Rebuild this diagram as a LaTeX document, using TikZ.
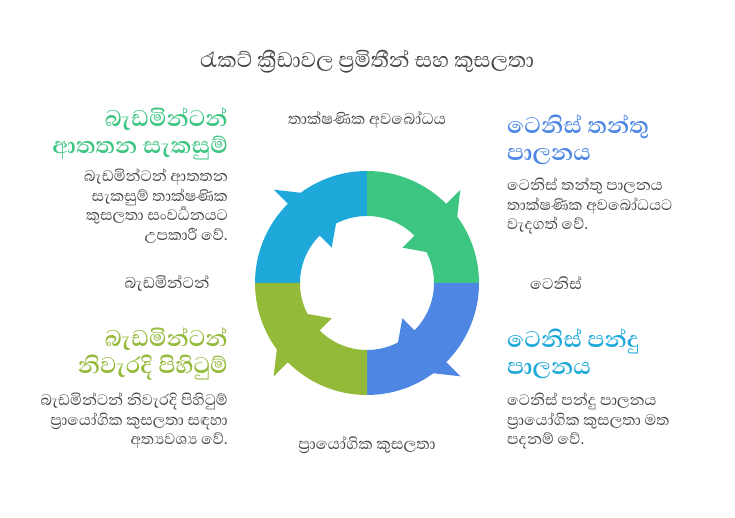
\documentclass[tikz,border=0pt]{standalone}
\usepackage{fontspec}
\setmainfont[Script=Sinhala]{Abhaya Libre}
\usetikzlibrary{calc}
\definecolor{ringcyan}{RGB}{30,169,218}
\definecolor{ringgreen}{RGB}{61,198,130}
\definecolor{ringblue}{RGB}{77,135,227}
\definecolor{ringolive}{RGB}{147,186,56}
\definecolor{txtgrey}{RGB}{70,70,70}

\begin{document}
\begin{tikzpicture}[x=1pt, y=1pt]
    \useasboundingbox (0,0) rectangle (735,518);
    \tikzset{
        lbl/.style={text=txtgrey, font=\fontsize{20}{22}\selectfont},
        head/.style={font=\fontsize{29}{27}\selectfont\bfseries, inner sep=0pt},
        desc/.style={text=txtgrey, font=\fontsize{19.5}{19.5}\selectfont, inner sep=0pt},
    }
    \coordinate (C) at (367,235);

    % ring
    \foreach \a/\col in {180/ringcyan, 90/ringgreen, 0/ringblue, -90/ringolive} {
        \fill[\col] ($(C)+(\a:112)$) arc[start angle=\a, delta angle=-90, radius=112]
            -- ($(C)+(\a-90:67)$) arc[start angle=\a-90, delta angle=90, radius=67] -- cycle;
        \fill[\col] ($(C)+(\a-45:132)$) -- ($(C)+(\a-73:89.5)$) -- ($(C)+(\a-45:50)$) -- cycle;
    }

    \node[lbl, font=\fontsize{27}{29}\selectfont] (title) at (367,456) {රැකට් ක්^^^^200dරීඩාවල ප්^^^^200dරමිතීන් සහ කුසලතා};

    \node[lbl] (topLbl)    at (367,398) {තාක්ෂණික අවබෝධය};
    \node[lbl] (bottomLbl) at (367,73)  {ප්^^^^200dරායෝගික කුසලතා};
    \node[lbl] (leftLbl)   at (167,235) {බැඩමින්ටන්};
    \node[lbl] (rightLbl)  at (556,235) {ටෙනිස්};

    \node[head, text=ringgreen, align=right, anchor=east] (tlHead) at (228,384) {බැඩමින්ටන්\\ආතතන සැකසුම්};
    \node[desc, align=right, anchor=east] (tlDesc) at (228,312) {බැඩමින්ටන් ආතතන\\සැකසුම් තාක්ෂණික\\කුසලතා සංවර්^^^^200dධනයට\\උපකාරී වේ.};

    \node[head, text=ringblue, align=left, anchor=west] (trHead) at (507,378) {ටෙනිස් තන්තු\\පාලනය};
    \node[desc, align=left, anchor=west] (trDesc) at (507,312) {ටෙනිස් තන්තු පාලනය\\තාක්ෂණික අවබෝධයට\\වැදගත් වේ.};

    \node[head, text=ringolive, align=right, anchor=east] (blHead) at (228,164) {බැඩමින්ටන්\\නිවැරදි පිහිටුම්};
    \node[desc, align=right, anchor=east] (blDesc) at (228,097) {බැඩමින්ටන් නිවැරදි පිහිටුම්\\ප්^^^^200dරායෝගික කුසලතා සඳහා\\අත්^^^^200dයවශ්^^^^200dය වේ.};

    \node[head, text=ringcyan, align=left, anchor=west] (brHead) at (507,164) {ටෙනිස් පන්දු\\පාලනය};
    \node[desc, align=left, anchor=west] (brDesc) at (507,097) {ටෙනිස් පන්දු පාලනය\\ප්^^^^200dරායෝගික කුසලතා මත\\පදනම් වේ.};
\end{tikzpicture}
\end{document}
